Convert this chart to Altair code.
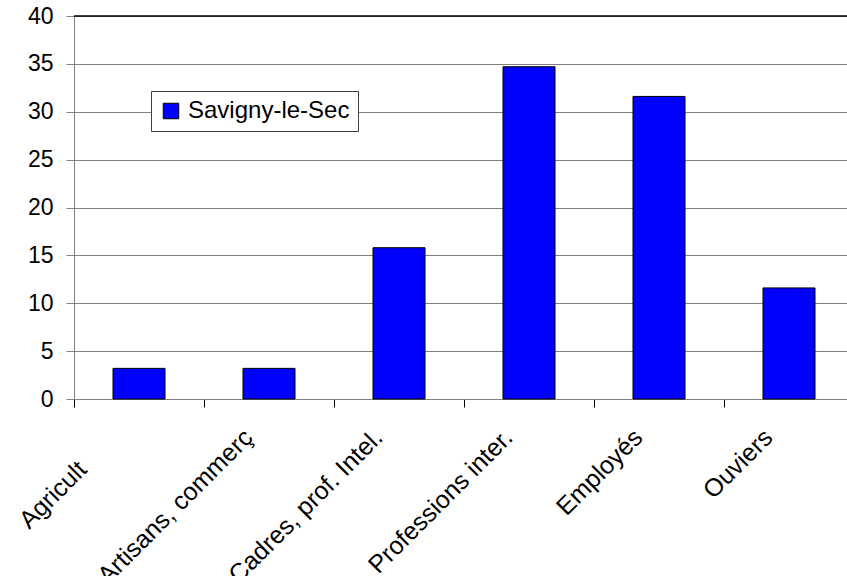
import altair as alt
import pandas as pd

categories = ["Agriculteurs", "Artisans, commerçants", "Cadres, prof. Intel.",
              "Professions inter.", "Employés", "Ouviers"]
shown_labels = ["Agricult", "Artisans, commerç", "Cadres, prof. Intel.",
                "Professions inter.", "Employés", "Ouviers"]
values = [3.2, 3.2, 15.8, 34.7, 31.6, 11.6]
series_name = "Savigny-le-Sec"
y_ticks = [0, 5, 10, 15, 20, 25, 30, 35, 40]
y_max = [40]

df = pd.DataFrame({"cat": categories, "val": values, "serie": [series_name] * len(categories)})
top_df = pd.DataFrame({"v": y_max})

# label expression mapping full names to what is visible
expr = "datum.label"
for full, shown in zip(reversed(categories), reversed(shown_labels)):
    expr = f"datum.label === '{full}' ? '{shown}' : ({expr})"

FONT = "Liberation Sans"
first_test = f"datum.value === '{categories[0]}'"

bars = alt.Chart(df).mark_bar(size=52, stroke="black", strokeWidth=1).encode(
    x=alt.X("cat:N", sort=categories, title=None,
            scale=alt.Scale(range=[0, 780], paddingInner=0, paddingOuter=0),
            axis=alt.Axis(labelAngle=-45, labelAlign="right", labelBaseline="middle",
                          labelExpr=expr, labelFont=FONT, labelFontSize=25,
                          labelColor="black",
                          labelPadding={"condition": {"test": first_test, "value": 58}, "value": 26},
                          labelOffset={"condition": {"test": first_test, "value": -57}, "value": -21},
                          labelLimit=400, tickBand="extent", tickSize=8,
                          tickColor="black", domainColor="#808080", grid=False)),
    y=alt.Y("val:Q", title=None,
            scale=alt.Scale(domain=[0, 40], nice=False),
            axis=alt.Axis(values=y_ticks, labelFont=FONT, labelFontSize=23,
                          labelColor="black", labelPadding=13, tickSize=8,
                          tickColor="#808080", domainColor="#808080",
                          gridColor="#808080", grid=True)),
    color=alt.Color("serie:N", scale=alt.Scale(range=["#0000FF"]),
                    legend=alt.Legend(title=None, orient="none", legendX=77, legendY=75,
                                      fillColor="white", strokeColor="#404040",
                                      padding=8, symbolType="square", symbolSize=240,
                                      symbolStrokeColor="black", symbolStrokeWidth=1,
                                      labelFont=FONT, labelFontSize=24, labelLimit=400,
                                      labelExpr="datum.label + '\u00a0\u00a0\u00a0\u00a0'",
                                      labelColor="black", labelOffset=5)),
)

top_line = alt.Chart(top_df).mark_rule(color="black", strokeWidth=1.5).encode(
    y=alt.Y("v:Q")
)

chart = alt.layer(top_line, bars).properties(
    width=773, height=383,
    autosize=alt.AutoSizeParams(type="none"),
    padding={"left": 74, "top": 16, "right": 0, "bottom": 177},
).configure_view(stroke=None).configure(background="white")

chart.save("out.html", embed_options={"renderer": "svg", "actions": False})
